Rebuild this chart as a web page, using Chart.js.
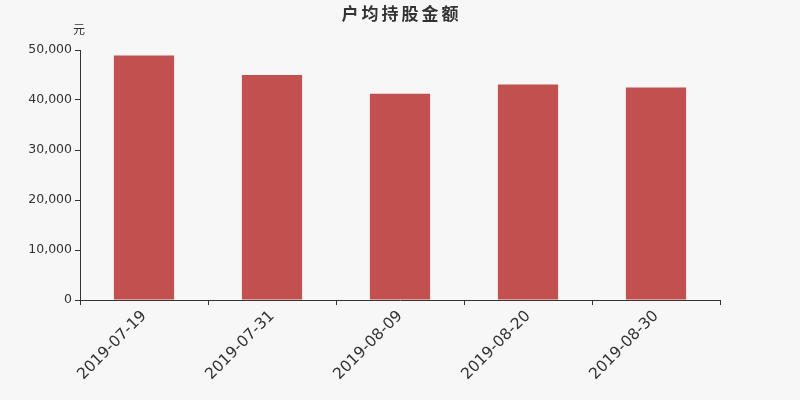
<!DOCTYPE html>
<html>
<head>
<meta charset="utf-8">
<script src="https://cdn.jsdelivr.net/npm/chart.js@4/dist/chart.umd.min.js"></script>
<style>
html,body{margin:0;padding:0;background:#f7f7f7;}
#wrap{width:800px;height:400px;position:relative;}
</style>
</head>
<body>
<div id="wrap"><canvas id="c" width="800" height="400"></canvas></div>
<script>
const categories = ['2019-07-19','2019-07-31','2019-08-09','2019-08-20','2019-08-30'];
const values = [48900, 45000, 41250, 43100, 42500];
const yTicks = [0, 10000, 20000, 30000, 40000, 50000];
const titleText = '户均持股金额';
const unitText = '元';

const textPlugin = {
  id: 'texts',
  afterDraw(chart) {
    const ctx = chart.ctx;
    ctx.save();
    ctx.fillStyle = '#333';
    ctx.textAlign = 'center';
    ctx.textBaseline = 'middle';
    ctx.font = 'bold 17px "Noto Sans CJK SC", sans-serif';
    const chars = Array.from(titleText);
    const sp = 20;
    const x0 = 400 - sp * (chars.length - 1) / 2;
    chars.forEach((ch, i) => ctx.fillText(ch, x0 + i * sp, 14));
    ctx.font = '12px "Noto Sans CJK SC", sans-serif';
    ctx.fillText(unitText, 79, 29);
    ctx.restore();
  }
};

const bgPlugin = {
  id: 'bg',
  beforeDraw(chart) {
    const ctx = chart.ctx;
    ctx.save();
    ctx.fillStyle = '#f7f7f7';
    ctx.fillRect(0, 0, chart.width, chart.height);
    ctx.restore();
  }
};

new Chart(document.getElementById('c'), {
  type: 'bar',
  data: {
    labels: categories,
    datasets: [{
      data: values,
      backgroundColor: '#c1504e',
      barPercentage: 0.47,
      categoryPercentage: 1.0
    }]
  },
  options: {
    responsive: false,
    animation: false,
    devicePixelRatio: 1,
    layout: { padding: { top: 50, right: 80, left: 0, bottom: 0 } },
    plugins: { legend: { display: false }, title: { display: false }, tooltip: { enabled: false } },
    scales: {
      x: {
        offset: true,
        grid: { offset: true, drawOnChartArea: false, tickLength: 5, color: '#333', tickColor: '#333' },
        border: { color: '#333', width: 1 },
        ticks: {
          color: '#333',
          font: { family: 'DejaVu Sans', size: 15.5 },
          maxRotation: 45, minRotation: 45, padding: 2, autoSkip: false
        },
        afterFit(s) { s.height = 100; }
      },
      y: {
        min: 0, max: 50000,
        grid: { drawOnChartArea: false, tickLength: 5, color: '#333', tickColor: '#333' },
        border: { color: '#333', width: 1 },
        afterBuildTicks(s) { s.ticks = yTicks.map(v => ({ value: v })); },
        ticks: {
          color: '#333',
          font: { family: 'DejaVu Sans', size: 12.5 },
          padding: 3,
          callback: v => v.toLocaleString('en-US')
        },
        afterFit(s) { s.width = 80; }
      }
    }
  },
  plugins: [bgPlugin, textPlugin]
});
</script>
</body>
</html>
